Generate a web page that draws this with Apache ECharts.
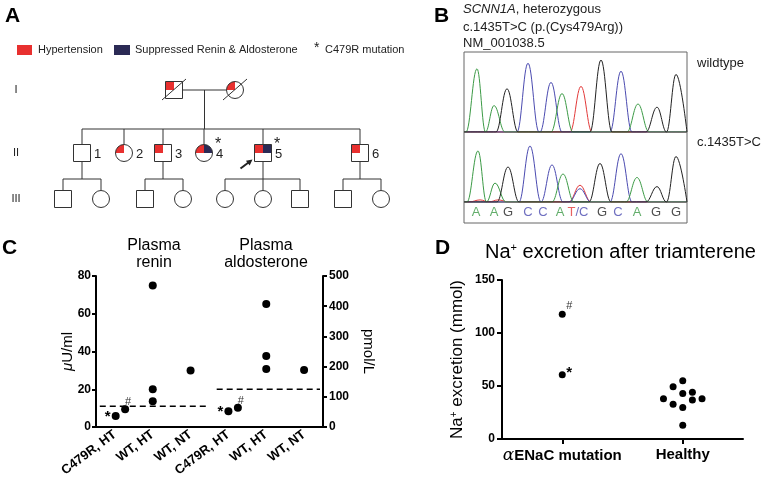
<!DOCTYPE html>
<html>
<head>
<meta charset="utf-8">
<script src="https://cdn.jsdelivr.net/npm/echarts@6/dist/echarts.min.js"></script>
<style>
html, body { margin: 0; padding: 0; background: #fff; }
#main { width: 762px; height: 483px; }
</style>
</head>
<body>
<div id="main"></div>
<script>
// ---------- A: pedigree ----------
// id, x, y, sex, hypertension, suppressed renin/aldo, deceased, number, C479R, proband
var people = [
    ['I1', 174, 90, 'M', 1, 0, 1, '', 0, 0],
    ['I2', 235, 90, 'F', 1, 0, 1, '', 0, 0],
    ['II1', 82, 153, 'M', 0, 0, 0, '1', 0, 0],
    ['II2', 124, 153, 'F', 1, 0, 0, '2', 0, 0],
    ['II3', 163, 153, 'M', 1, 0, 0, '3', 0, 0],
    ['II4', 204, 153, 'F', 1, 1, 0, '4', 1, 0],
    ['II5', 263, 153, 'M', 1, 1, 0, '5', 1, 1],
    ['II6', 360, 153, 'M', 1, 0, 0, '6', 0, 0],
    ['III1', 63, 199, 'M', 0, 0, 0, '', 0, 0],
    ['III2', 101, 199, 'F', 0, 0, 0, '', 0, 0],
    ['III3', 145, 199, 'M', 0, 0, 0, '', 0, 0],
    ['III4', 183, 199, 'F', 0, 0, 0, '', 0, 0],
    ['III5', 225, 199, 'F', 0, 0, 0, '', 0, 0],
    ['III6', 263, 199, 'F', 0, 0, 0, '', 0, 0],
    ['III7', 300, 199, 'M', 0, 0, 0, '', 0, 0],
    ['III8', 343, 199, 'M', 0, 0, 0, '', 0, 0],
    ['III9', 381, 199, 'F', 0, 0, 0, '', 0, 0]
];
var families = [
    { parents: ['I1', 'I2'], bar: 129, children: ['II1', 'II2', 'II3', 'II4', 'II5', 'II6'] },
    { parents: ['II1'], bar: 179, children: ['III1', 'III2'] },
    { parents: ['II3'], bar: 179, children: ['III3', 'III4'] },
    { parents: ['II5'], bar: 179, children: ['III5', 'III6', 'III7'] },
    { parents: ['II6'], bar: 179, children: ['III8', 'III9'] }
];

// ---------- B: chromatogram peaks [position, height %] ----------
var wildPeaks = {
    A: [[13, 79], [30, 33], [98, 48], [174, 35]],
    C: [[64, 86], [87, 62], [157, 76]],
    G: [[43, 54], [137, 90], [193, 31], [212, 72]],
    T: [[117, 57]]
};
var mutPeaks = {
    A: [[14, 73], [31, 27], [99, 40], [173, 35]],
    C: [[66, 80], [88, 53], [116, 19], [157, 69]],
    G: [[44, 50], [136, 55], [193, 22], [212, 65]],
    T: [[16, 3], [34, 3], [116, 24]]
};
var seqLetters = ['A', 'A', 'G', 'C', 'C', 'A', 'T/C', 'G', 'C', 'A', 'G', 'G'];
var seqPos = [12, 30, 44, 64, 79, 96, 114, 138, 154, 173, 192, 212];

// ---------- C: plasma renin / aldosterone ----------
var groupsC = ['C479R, HT', 'WT, HT', 'WT, NT', 'C479R, HT', 'WT, HT', 'WT, NT'];
var reninPts = [[0.52, 5.8, '*'], [0.77, 9.4, '#'], [1.5, 75], [1.5, 20], [1.5, 13.7], [2.5, 30]];   // µU/ml
var aldoPts = [[3.5, 52, '*'], [3.75, 64, '#'], [4.5, 407], [4.5, 235], [4.5, 192], [5.5, 189]];     // pmol/L
var reninRef = [[0.1, 11], [2.93, 11]];
var aldoRef = [[3.19, 125], [5.92, 125]];

// ---------- D: Na+ excretion ----------
var groupsD = ['αENaC mutation', 'Healthy'];
var mutantNa = [[0.5, 117.7, '#'], [0.5, 60.6, '*']];
var healthyNa = [[1.5, 54.9], [1.42, 49.3], [1.5, 43], [1.58, 44.2], [1.34, 38],
                 [1.42, 32.9], [1.5, 29.8], [1.58, 36.7], [1.66, 38], [1.5, 12.9]];

var RED = '#e8302f', NAVY = '#2b2a55', INK = '#000';
var baseColors = { A: '#3c9a46', C: '#4b4bb0', G: '#222222', T: '#e23a3a' };
var FONT = 'Liberation Sans, Arial, sans-serif';
var HALF = 8.5;

var myChart = echarts.init(document.getElementById('main'));

// pedigree connecting lines from the families
function byId(id) {
    for (var i = 0; i < people.length; i++) if (people[i][0] === id) return { x: people[i][1], y: people[i][2] };
}
var segs = [];
families.forEach(function (f) {
    var par = f.parents.map(byId), top;
    if (par.length === 2) {
        segs.push([par[0].x + HALF, par[0].y, par[1].x - HALF, par[1].y]);
        top = [(par[0].x + par[1].x) / 2, par[0].y];
    } else {
        top = [par[0].x, par[0].y + HALF];
    }
    segs.push([top[0], top[1], top[0], f.bar]);
    var kids = f.children.map(byId);
    segs.push([kids[0].x, f.bar, kids[kids.length - 1].x, f.bar]);
    kids.forEach(function (k) { segs.push([k.x, f.bar, k.x, k.y - HALF]); });
});

function renderPerson(params, api) {
    var d = people[params.dataIndex];
    var p = api.coord([api.value(0), api.value(1)]);
    var x = p[0], y = p[1], s = HALF * 2, kids = [];
    var stroke = { stroke: '#333', lineWidth: 1 };
    if (d[3] === 'M') {
        kids.push({ type: 'rect', shape: { x: x - HALF, y: y - HALF, width: s, height: s }, style: { fill: '#fff' } });
        if (d[4]) kids.push({ type: 'rect', shape: { x: x - HALF, y: y - HALF, width: HALF, height: HALF }, style: { fill: RED } });
        if (d[5]) kids.push({ type: 'rect', shape: { x: x, y: y - HALF, width: HALF, height: HALF }, style: { fill: NAVY } });
        kids.push({ type: 'rect', shape: { x: x - HALF, y: y - HALF, width: s, height: s }, style: echarts.util.extend({ fill: null }, stroke) });
    } else {
        kids.push({ type: 'circle', shape: { cx: x, cy: y, r: HALF }, style: { fill: '#fff' } });
        if (d[4]) kids.push({ type: 'sector', shape: { cx: x, cy: y, r0: 0, r: HALF, startAngle: Math.PI, endAngle: Math.PI * 1.5 }, style: { fill: RED } });
        if (d[5]) kids.push({ type: 'sector', shape: { cx: x, cy: y, r0: 0, r: HALF, startAngle: Math.PI * 1.5, endAngle: Math.PI * 2 }, style: { fill: NAVY } });
        kids.push({ type: 'circle', shape: { cx: x, cy: y, r: HALF }, style: echarts.util.extend({ fill: null }, stroke) });
    }
    if (d[6]) kids.push({ type: 'line', shape: { x1: x - 12, y1: y + 10, x2: x + 12, y2: y - 11 }, style: stroke });
    if (d[7]) kids.push({ type: 'text', style: { text: d[7], x: x + 12, y: y + 1, fontSize: 13, fontFamily: FONT, fill: '#222', align: 'left', verticalAlign: 'middle' } });
    if (d[8]) kids.push({ type: 'text', style: { text: '*', x: x + 11, y: y - 8, fontSize: 16, fontFamily: FONT, fill: '#222', align: 'left', verticalAlign: 'middle' } });
    if (d[9]) {
        var tip = [x - 10.5, y + 6.5];
        kids.push({ type: 'line', shape: { x1: x - 22.5, y1: y + 15.5, x2: tip[0] - 3, y2: tip[1] + 2.3 }, style: { stroke: '#222', lineWidth: 2 } });
        kids.push({ type: 'polygon', shape: { points: [tip, [tip[0] - 4.7 + 1.9, tip[1] + 3.7 + 2.4], [tip[0] - 4.7 - 1.9, tip[1] + 3.7 - 2.4]] }, style: { fill: '#222' } });
    }
    return { type: 'group', children: kids };
}

function renderSeg(params, api) {
    var a = api.coord([api.value(0), api.value(1)]);
    var b = api.coord([api.value(2), api.value(3)]);
    return { type: 'line', shape: { x1: a[0], y1: a[1], x2: b[0], y2: b[1] }, style: { stroke: '#333', lineWidth: 1 } };
}

// chromatogram traces: baseline - peak - baseline for each read peak,
// neighbouring peaks of one base share their valley
function traceData(peaks) {
    var w = 11, pts = [[0, 0]];
    peaks.slice().sort(function (a, b) { return a[0] - b[0]; }).forEach(function (pk) {
        var last = pts[pts.length - 1];
        if (pts.length > 1 && last[0] >= pk[0] - w) {
            last[0] = (pts[pts.length - 2][0] + pk[0]) / 2;
        } else {
            pts.push([pk[0] - w, 0]);
        }
        pts.push([pk[0], pk[1]], [pk[0] + w, 0]);
    });
    pts.push([223, 0]);
    return pts;
}
var traceSeries = [];
[[wildPeaks, 1], [mutPeaks, 2]].forEach(function (t) {
    ['T', 'C', 'A', 'G'].forEach(function (b) {
        traceSeries.push({
            type: 'line', xAxisIndex: t[1], yAxisIndex: t[1], data: traceData(t[0][b]),
            symbol: 'none', smooth: 0.4, smoothMonotone: 'x',
            lineStyle: { color: baseColors[b], width: 1 }
        });
    });
});

function dotLabel(mark, kind) {
    if (!mark) return { show: false };
    if (mark === '*') return { show: true, formatter: '*', position: 'inside', offset: kind === 'C' ? [-8, 1] : [7, -2], fontSize: 15, fontWeight: 'bold', color: INK };
    return { show: true, formatter: '#', position: 'inside', offset: kind === 'C' ? [3, -7] : [7, -8], fontSize: 11, color: '#333' };
}
function toItems(arr, kind) {
    return arr.map(function (p) { return { value: [p[0], p[1]], label: dotLabel(p[2], kind) }; });
}

var hidX = function (grid, max) { return { type: 'value', gridIndex: grid, min: 0, max: max, show: false }; };
var axisBlack = { show: true, lineStyle: { color: INK, width: 2 } };
var tickBlack = { show: true, length: 4, lineStyle: { color: INK, width: 2 } };
var dotStyle = { color: INK, opacity: 1 };

var option = {
    animation: false,
    textStyle: { fontFamily: FONT },
    grid: [
        { left: 0, top: 0, width: 400, height: 240 },
        { left: 464, top: 52, width: 223, height: 80, show: true, borderColor: '#666', borderWidth: 1 },
        { left: 464, top: 132, width: 223, height: 70, show: true, borderColor: '#666', borderWidth: 1 },
        { left: 464, top: 202, width: 223, height: 21, show: true, borderColor: '#666', borderWidth: 1 },
        { left: 96, top: 276, width: 227, height: 151 },
        { left: 502, top: 280, width: 241, height: 159 }
    ],
    xAxis: [
        hidX(0, 400), hidX(1, 223), hidX(2, 223), hidX(3, 223),
        {
            type: 'category', gridIndex: 4, data: groupsC, boundaryGap: true,
            axisLine: axisBlack, axisTick: { show: false },
            axisLabel: { interval: 0, rotate: 37, margin: 6, fontSize: 13, fontWeight: 'bold', color: INK }
        },
        hidX(4, 6),
        {
            type: 'category', gridIndex: 5, data: groupsD, boundaryGap: true,
            axisLine: axisBlack, axisTick: { show: true, alignWithLabel: true, length: 5, lineStyle: { color: INK, width: 2 } },
            axisLabel: {
                interval: 0, hideOverlap: false, margin: 8, fontSize: 15, fontWeight: 'bold', color: INK,
                formatter: function (v) { return v.charAt(0) === 'α' ? '{a|α}' + v.slice(1) : v; },
                rich: { a: { fontSize: 17, fontStyle: 'italic', fontWeight: 'normal', fontFamily: 'DejaVu Serif, serif', color: INK } }
            }
        },
        hidX(5, 2)
    ],
    yAxis: [
        { type: 'value', gridIndex: 0, min: 0, max: 240, inverse: true, show: false },
        { type: 'value', gridIndex: 1, min: 0, max: 100, show: false },
        { type: 'value', gridIndex: 2, min: 0, max: 100, show: false },
        { type: 'value', gridIndex: 3, min: 0, max: 1, show: false },
        {
            type: 'value', gridIndex: 4, min: 0, max: 80, interval: 20, position: 'left',
            axisLine: axisBlack, axisTick: tickBlack, splitLine: { show: false },
            axisLabel: { margin: 5, fontSize: 12, fontWeight: 'bold', color: INK },
            name: '{i|μ}U/ml', nameLocation: 'middle', nameGap: 21, nameRotate: 90, nameMoveOverlap: false,
            nameTextStyle: { fontSize: 15, color: INK, rich: { i: { fontSize: 15, fontStyle: 'italic', color: INK } } }
        },
        {
            type: 'value', gridIndex: 4, min: 0, max: 500, interval: 100, position: 'right',
            axisLine: axisBlack, axisTick: tickBlack, splitLine: { show: false },
            axisLabel: { margin: 6, fontSize: 12, fontWeight: 'bold', color: INK },
            name: 'pmol/L', nameLocation: 'middle', nameGap: 38, nameRotate: -90, nameMoveOverlap: false,
            nameTextStyle: { fontSize: 15, color: INK }
        },
        {
            type: 'value', gridIndex: 5, min: 0, max: 150, interval: 50,
            axisLine: axisBlack, axisTick: { show: true, length: 5, lineStyle: { color: INK, width: 2 } }, splitLine: { show: false },
            axisLabel: { margin: 7, fontSize: 12, fontWeight: 'bold', color: INK },
            name: 'Na{s|+} excretion (mmol)', nameLocation: 'middle', nameGap: 36, nameRotate: 90,
            nameTextStyle: { fontSize: 17, color: INK, rich: { s: { fontSize: 10, verticalAlign: 'top', color: INK } } }
        }
    ],
    series: [
        // A
        { type: 'custom', xAxisIndex: 0, yAxisIndex: 0, data: segs, renderItem: renderSeg, silent: true, clip: false },
        { type: 'custom', xAxisIndex: 0, yAxisIndex: 0, data: people.map(function (p) { return [p[1], p[2]]; }), renderItem: renderPerson, silent: true, clip: false }
    ].concat(traceSeries).concat([
        {
            type: 'scatter', xAxisIndex: 3, yAxisIndex: 3, symbolSize: 1, itemStyle: { color: 'transparent' },
            data: seqPos.map(function (x, i) {
                var l = seqLetters[i];
                return {
                    value: [x, 0.5],
                    label: {
                        show: true, position: 'inside', fontSize: 13,
                        formatter: l === 'T/C' ? '{t|T}{c|/C}' : l,
                        color: baseColors[l] || INK,
                        rich: { t: { color: baseColors.T, fontSize: 13 }, c: { color: baseColors.C, fontSize: 13 } }
                    }
                };
            })
        },
        // C
        { type: 'scatter', xAxisIndex: 5, yAxisIndex: 4, symbolSize: 8, itemStyle: dotStyle, data: toItems(reninPts, 'C') },
        { type: 'scatter', xAxisIndex: 5, yAxisIndex: 5, symbolSize: 8, itemStyle: dotStyle, data: toItems(aldoPts, 'C') },
        { type: 'line', xAxisIndex: 5, yAxisIndex: 4, data: reninRef, symbol: 'none', lineStyle: { color: INK, width: 1.5, type: [6, 4] } },
        { type: 'line', xAxisIndex: 5, yAxisIndex: 5, data: aldoRef, symbol: 'none', lineStyle: { color: INK, width: 1.5, type: [6, 4] } },
        // D
        { type: 'scatter', xAxisIndex: 7, yAxisIndex: 6, symbolSize: 7, itemStyle: dotStyle, data: toItems(mutantNa, 'D') },
        { type: 'scatter', xAxisIndex: 7, yAxisIndex: 6, symbolSize: 7, itemStyle: dotStyle, data: toItems(healthyNa, 'D') }
    ]),
    graphic: [
        // panel letters
        { type: 'text', left: 5, top: 6, style: { text: 'A', fontSize: 21, fontWeight: 'bold', fill: INK } },
        { type: 'text', left: 434, top: 6, style: { text: 'B', fontSize: 21, fontWeight: 'bold', fill: INK } },
        { type: 'text', left: 2, top: 238, style: { text: 'C', fontSize: 21, fontWeight: 'bold', fill: INK } },
        { type: 'text', left: 435, top: 238, style: { text: 'D', fontSize: 21, fontWeight: 'bold', fill: INK } },
        // A legend
        { type: 'rect', shape: { x: 17, y: 45, width: 15, height: 10 }, style: { fill: RED } },
        { type: 'text', x: 38, y: 50, style: { text: 'Hypertension', fontSize: 11, fill: '#222', verticalAlign: 'middle' } },
        { type: 'rect', shape: { x: 114, y: 45, width: 16, height: 10 }, style: { fill: NAVY } },
        { type: 'text', x: 135, y: 50, style: { text: 'Suppressed Renin & Aldosterone', fontSize: 11, fill: '#222', verticalAlign: 'middle' } },
        { type: 'text', x: 314, y: 48, style: { text: '*', fontSize: 14, fill: '#222', verticalAlign: 'middle' } },
        { type: 'text', x: 325, y: 50, style: { text: 'C479R mutation', fontSize: 11, fill: '#222', verticalAlign: 'middle' } },
        { type: 'text', x: 16, y: 90, style: { text: 'I', fontSize: 11, fill: '#222', align: 'center', verticalAlign: 'middle' } },
        { type: 'text', x: 16, y: 153, style: { text: 'II', fontSize: 11, fill: '#222', align: 'center', verticalAlign: 'middle' } },
        { type: 'text', x: 16, y: 199, style: { text: 'III', fontSize: 11, fill: '#222', align: 'center', verticalAlign: 'middle' } },
        // B header
        {
            type: 'text', x: 463, y: 9, style: {
                text: '{i|SCNN1A}, heterozygous', fontSize: 13, fill: '#222', verticalAlign: 'middle',
                rich: { i: { fontStyle: 'italic', fontSize: 13, fill: '#222' } }
            }
        },
        { type: 'text', x: 463, y: 27, style: { text: 'c.1435T>C (p.(Cys479Arg))', fontSize: 13, fill: '#222', verticalAlign: 'middle' } },
        { type: 'text', x: 463, y: 43, style: { text: 'NM_001038.5', fontSize: 13, fill: '#222', verticalAlign: 'middle' } },
        { type: 'text', x: 697, y: 63, style: { text: 'wildtype', fontSize: 13, fill: '#222', verticalAlign: 'middle' } },
        { type: 'text', x: 697, y: 142, style: { text: 'c.1435T>C', fontSize: 13, fill: '#222', verticalAlign: 'middle' } },
        // C titles
        { type: 'text', x: 154, y: 254, style: { text: 'Plasma\nrenin', fontSize: 16, lineHeight: 17, fill: INK, align: 'center', verticalAlign: 'middle' } },
        { type: 'text', x: 266, y: 254, style: { text: 'Plasma\naldosterone', fontSize: 16, lineHeight: 17, fill: INK, align: 'center', verticalAlign: 'middle' } },
        // D title
        {
            type: 'text', x: 485, y: 252, style: {
                text: 'Na{s|+} excretion after triamterene', fontSize: 20, fill: INK, verticalAlign: 'middle',
                rich: { s: { fontSize: 11, verticalAlign: 'top', fill: INK } }
            }
        }
    ]
};

myChart.setOption(option);
</script>
</body>
</html>
